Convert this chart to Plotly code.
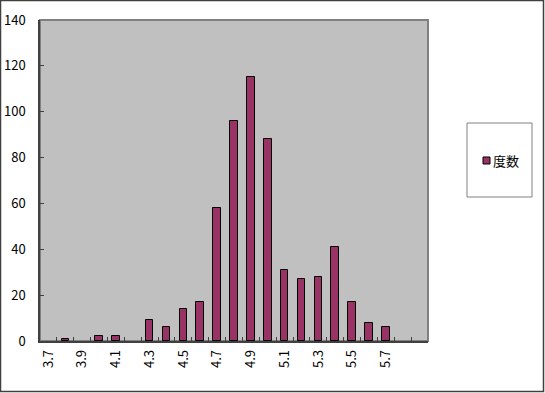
import plotly.graph_objects as go

categories = ["3.7", "3.8", "3.9", "4.0", "4.1", "4.2", "4.3", "4.4", "4.5", "4.6",
              "4.7", "4.8", "4.9", "5.0", "5.1", "5.2", "5.3", "5.4", "5.5", "5.6",
              "5.7", "5.8", ""]
counts = [0, 1, 0, 2, 2, 0, 9, 6, 14, 17,
          58, 96, 115, 88, 31, 27, 28, 41, 17, 8,
          6, 0, 0]
series_name = "度数"
y_ticks = [0, 20, 40, 60, 80, 100, 120, 140]

W, H = 545, 393
L, R, T, B = 40, 117, 20, 52
pw, ph = W - L - R, H - T - B

def px_x(p):
    return (p - L) / pw

def px_y(p):
    return 1 - (p - T) / ph

idx = list(range(len(categories)))
label_idx = [i for i in idx[::2] if categories[i] != ""]
boundaries = [i + 0.5 for i in idx[:-1]]
outline_w = [1 if v > 0 else 0 for v in counts]

font = "Noto Sans CJK JP, Noto Sans, sans-serif"

fig = go.Figure()
fig.add_trace(go.Bar(
    x=idx, y=counts, name=series_name, width=0.45,
    marker=dict(color="#993366", line=dict(color="#000000", width=outline_w)),
    showlegend=False,
))

fig.update_layout(
    width=W, height=H,
    margin=dict(l=L, r=R, t=T, b=B, pad=0, autoexpand=False),
    paper_bgcolor="white",
    plot_bgcolor="#C0C0C0",
    font=dict(family=font, size=12, color="#000000"),
    showlegend=False,
    bargap=0,
)
fig.update_xaxes(
    range=[-0.5, len(categories) - 0.5], automargin=False,
    tickmode="array", tickvals=label_idx, ticktext=[categories[i] for i in label_idx],
    tickangle=-90, ticks="", showgrid=False, zeroline=False,
    showline=True, linecolor="#404040", linewidth=1.5,
    tickfont=dict(size=13, family=font),
    ticklabelstandoff=2,
    minor=dict(tickmode="array", tickvals=boundaries, ticks="inside", ticklen=4,
               tickcolor="#404040", tickwidth=1, showgrid=False),
    fixedrange=True,
)
fig.update_yaxes(
    range=[0, 140], tickmode="array", tickvals=y_ticks, automargin=False,
    ticks="inside", ticklen=4, tickcolor="#404040", tickwidth=1,
    showgrid=False, zeroline=False,
    showline=True, linecolor="#404040", linewidth=1.5,
    tickfont=dict(size=13, family=font),
    ticklabelstandoff=10,
    fixedrange=True,
)

shapes = [
    # plot area border (gray)
    dict(type="rect", xref="paper", yref="paper", x0=0, x1=1, y0=0, y1=1,
         line=dict(color="#808080", width=2), layer="below"),
    # outer chart border
    dict(type="rect", xref="paper", yref="paper",
         x0=px_x(0.5), x1=px_x(W - 1.5), y0=px_y(H - 1.5), y1=px_y(0.5),
         line=dict(color="#404040", width=1.5)),
    # legend box
    dict(type="rect", xref="paper", yref="paper",
         x0=px_x(467), x1=px_x(532), y0=px_y(197), y1=px_y(123),
         line=dict(color="#808080", width=1), fillcolor="white"),
    # legend key
    dict(type="rect", xref="paper", yref="paper",
         x0=px_x(483), x1=px_x(490), y0=px_y(164), y1=px_y(157),
         line=dict(color="#000000", width=1), fillcolor="#993366"),
]
fig.update_layout(shapes=shapes)
fig.add_annotation(
    xref="paper", yref="paper", x=px_x(491), y=px_y(160.5),
    xanchor="left", yanchor="middle", showarrow=False,
    text=series_name, font=dict(family=font, size=13, color="#000000"),
)

fig.write_html("out.html")
